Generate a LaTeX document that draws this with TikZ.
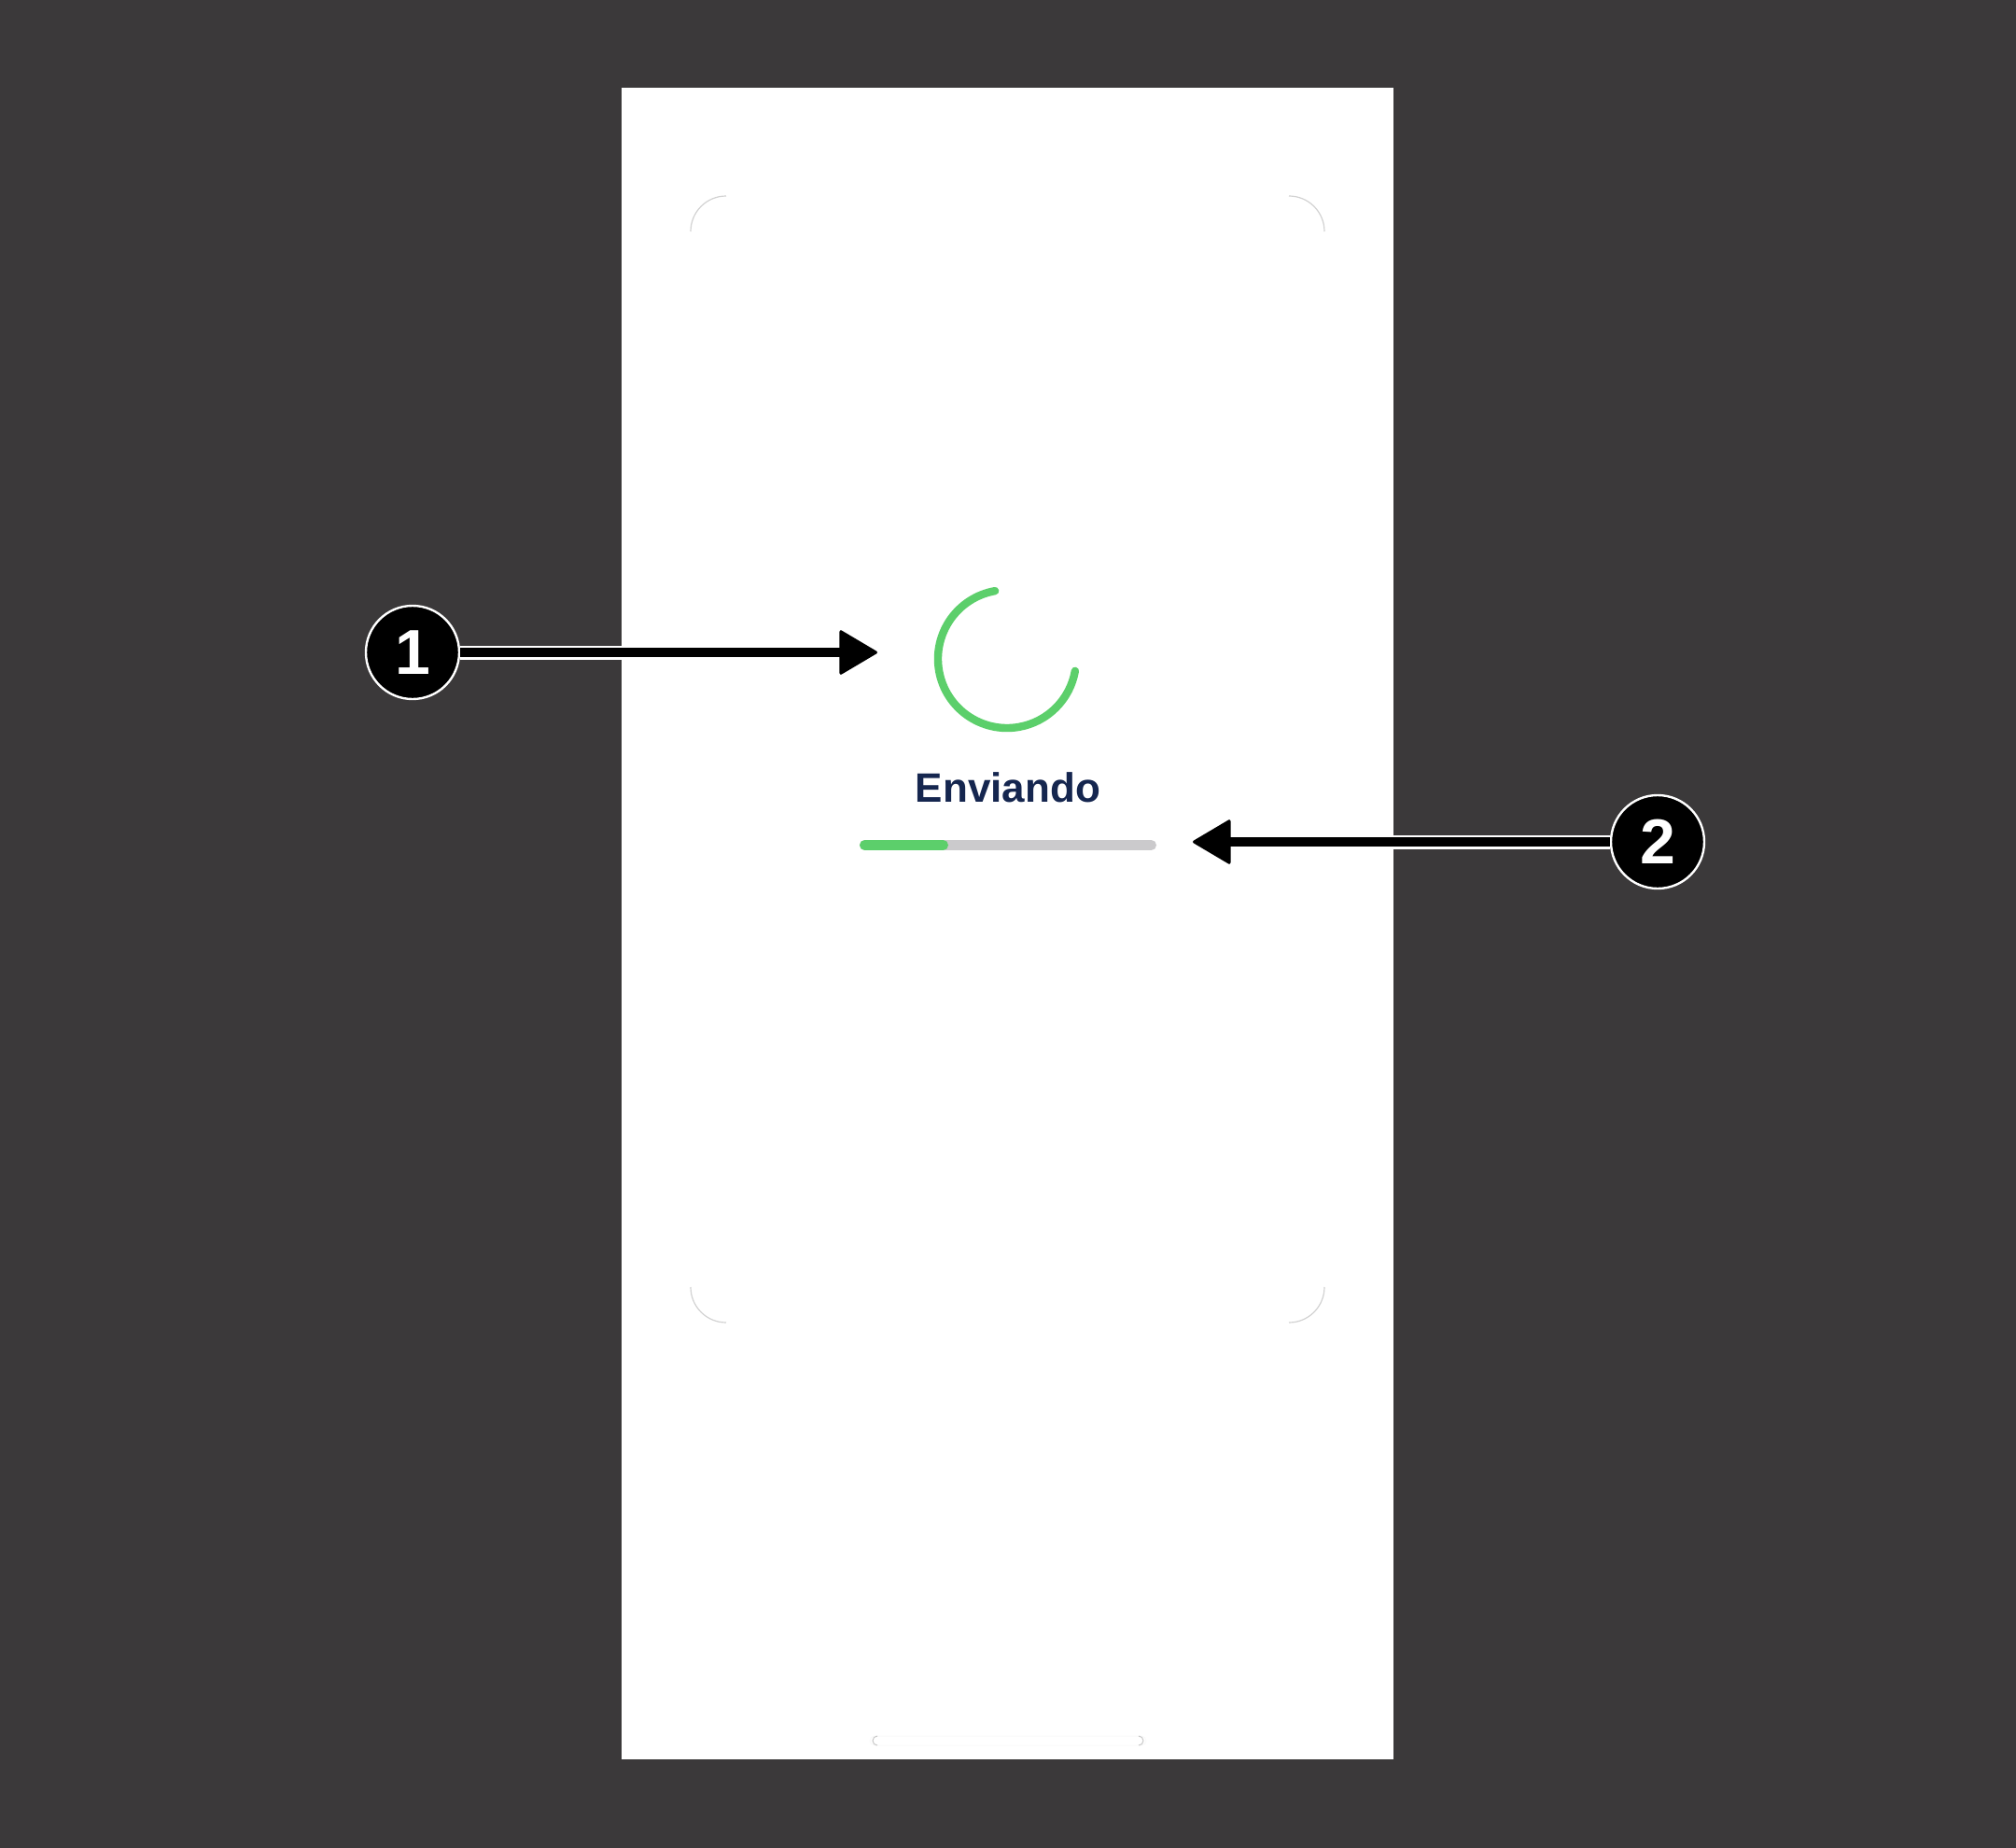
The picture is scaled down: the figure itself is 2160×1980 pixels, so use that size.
\documentclass[tikz,border=0pt]{standalone}
\usepackage{fontspec}
\setmainfont{Liberation Sans}
\usetikzlibrary{arrows.meta}
\definecolor{bgdark}{HTML}{3B393A}
\definecolor{spingreen}{HTML}{5CCF6B}
\definecolor{navy}{HTML}{15264F}
\definecolor{trackgray}{HTML}{CBCACC}
\definecolor{cornergray}{HTML}{D2D2D2}
\definecolor{pillgray}{HTML}{C8C8C8}
\begin{document}
\begin{tikzpicture}[x=0.5pt,y=-0.5pt,
  badge/.style={circle, fill=black, draw=white, line width=1.2pt, minimum size=50pt,
    inner sep=0pt, text=white, font=\fontsize{34}{34}\selectfont\bfseries},
  pointer/.style={black, line width=5pt, -{Triangle[length=21pt,width=24.5pt,round,line width=1.5pt]}},
  halo/.style={white, line width=7.5pt},
  cornerarc/.style={cornergray, line width=0.6pt},
  spinner/.style={spingreen, line width=4.2pt, line cap=round},
  bartrack/.style={trackgray, line width=5.5pt, line cap=round},
  barfill/.style={spingreen, line width=5.5pt, line cap=round},
  label/.style={text=navy, font=\fontsize{22}{22}\selectfont\bfseries, inner sep=0pt, anchor=base}
]
% background and bounding box
\useasboundingbox (0,0) rectangle (2160,1980);
\fill[bgdark] (0,0) rectangle (2160,1980);
% phone screen
\fill[white] (666,94) rectangle (1493,1885);
% corner marks
\draw[cornerarc] (740,248) arc[start angle=180,end angle=90,radius=19pt];
\draw[cornerarc] (1381,210) arc[start angle=90,end angle=0,radius=19pt];
\draw[cornerarc] (740,1379) arc[start angle=180,end angle=270,radius=19pt];
\draw[cornerarc] (1381,1417) arc[start angle=270,end angle=360,radius=19pt];
% home indicator
\draw[black!2, line width=0.5pt, rounded corners=2.5pt] (932,1860) rectangle (1228,1870);
\draw[pillgray, line width=0.5pt] (940,1860) arc[start angle=90,end angle=270,radius=2.5pt];
\draw[pillgray, line width=0.5pt] (1220,1870) arc[start angle=270,end angle=450,radius=2.5pt];
% spinner
\coordinate (spin) at (1079,706);
\draw[spinner] ([shift={(100:37pt)}]spin) arc[start angle=100,end angle=350,radius=37pt];
% label
\node[label] (lbl) at (1080,859) {Enviando};
% progress bar
\coordinate (barL) at (926.5,905.5);
\coordinate (barR) at (1233.5,905.5);
\coordinate (barP) at (1010.5,905.5);
\draw[bartrack] (barL) -- (barR);
\draw[barfill] (barL) -- (barP);
% badges
\node[badge] (c1) at (442,699) {1};
\node[badge] (c2) at (1776,902) {2};
\coordinate (t1) at (940,699);
\coordinate (t2) at (1278,902);
% pointers
\draw[halo, shorten >=30pt] (c1) -- (t1);
\draw[pointer] (c1) -- (t1);
\draw[halo, shorten >=30pt] (c2) -- (t2);
\draw[pointer] (c2) -- (t2);
\end{tikzpicture}
\end{document}
